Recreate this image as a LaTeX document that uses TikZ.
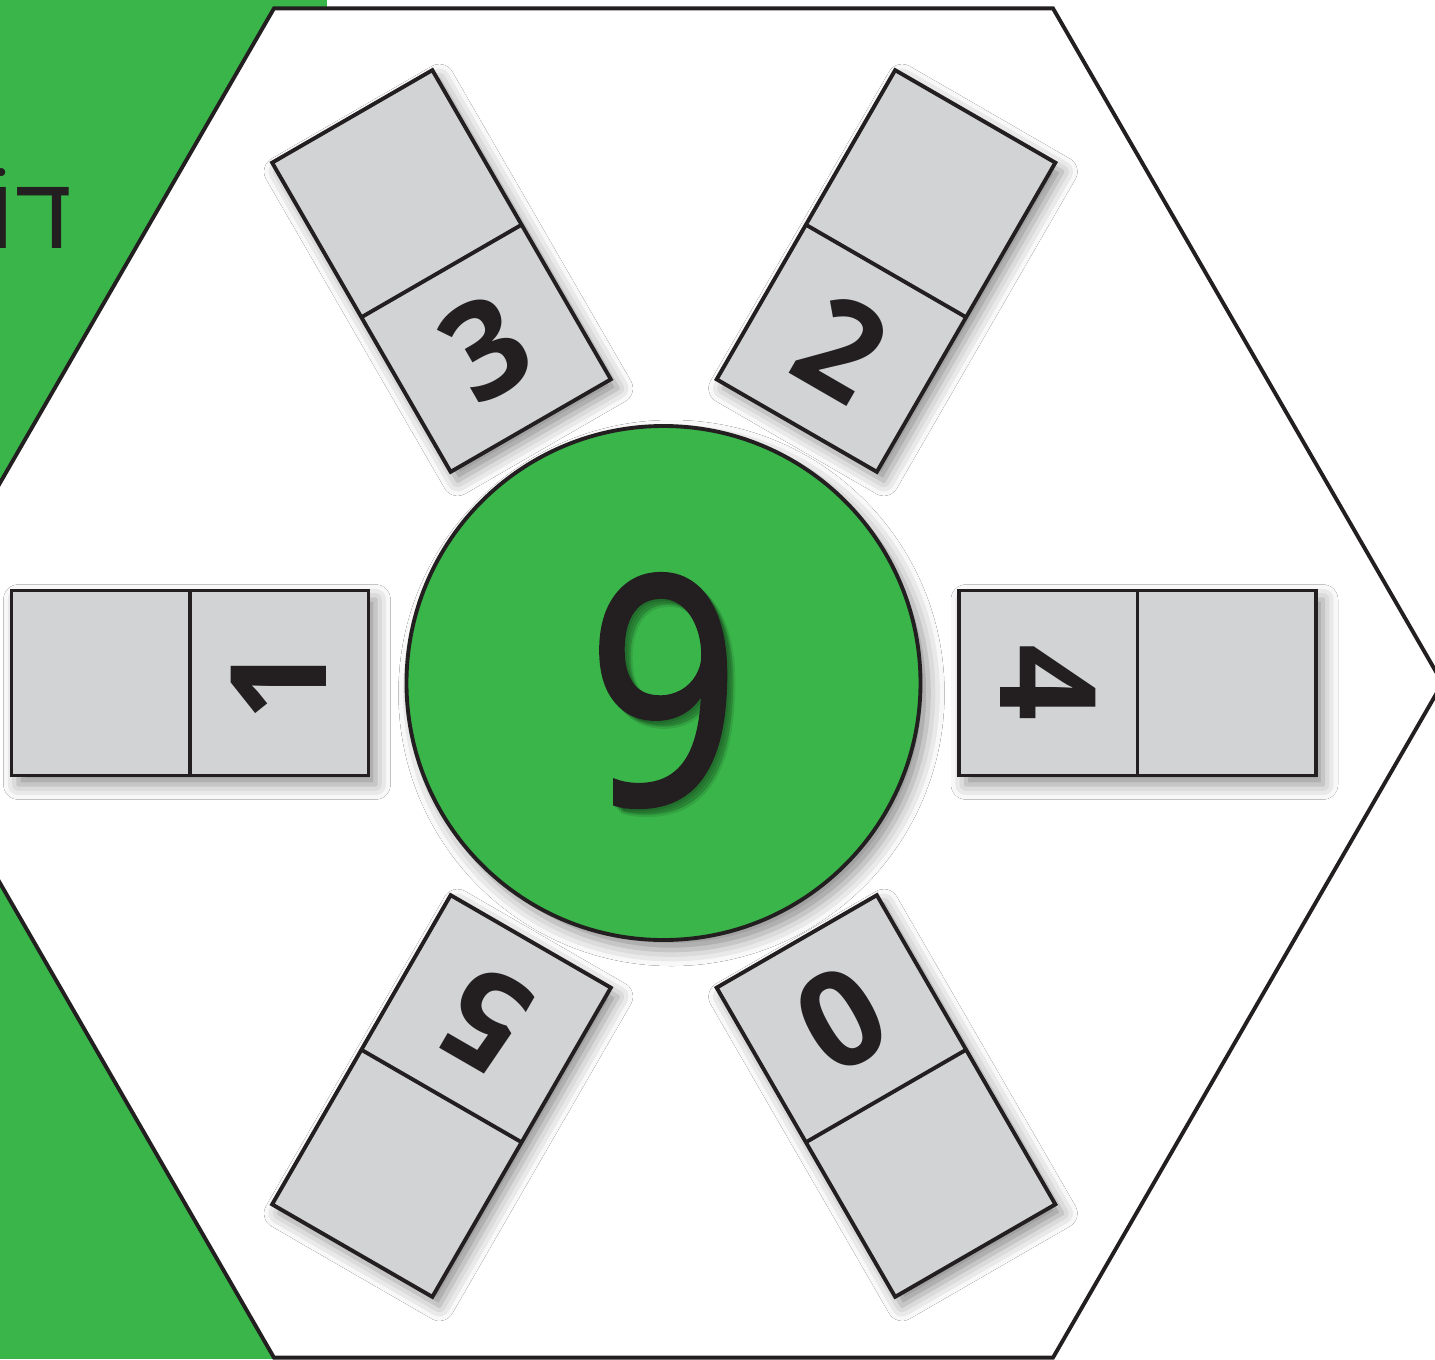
\documentclass[tikz,border=0pt]{standalone}
\usepackage{fontspec}
\setmainfont{Open Sans}
\newfontfamily\hebfont[Script=Hebrew]{Liberation Sans}
\newfontfamily\hubfont[FakeBold=1.6]{Open Sans}
\TeXXeTstate=1
\usetikzlibrary{shadows.blur}
\definecolor{hexgreen}{RGB}{58,181,74}
\definecolor{tilegray}{RGB}{209,211,212}
\definecolor{ink}{RGB}{35,31,32}

\begin{document}
\begin{tikzpicture}[line width=1.1pt,
  tile/.style={draw=ink, fill=tilegray, blur shadow={shadow xshift=0.7mm, shadow yshift=-0.9mm, shadow blur radius=1.5mm, shadow opacity=45}},
  digit/.style={text=ink, inner sep=0pt, font=\bfseries\fontsize{38}{38}\selectfont},
]
  \useasboundingbox (-6.635,-6.76) rectangle (7.715,6.83);
  \clip (-6.635,-6.76) rectangle (7.715,6.83);
  \fill[white] (-6.635,-6.76) rectangle (7.715,6.83);
  \fill[hexgreen] (-6.635,-6.76) rectangle (-3.365,6.83);
  \coordinate (O) at (0,0);
  % hexagon board
  \draw[ink, fill=white] (0:7.79) -- (60:7.79) -- (120:7.79) -- (180:7.79) -- (240:7.79) -- (300:7.79) -- cycle;
  \node[anchor=base east, inner sep=0pt, text=ink, font=\hebfont\fontsize{29}{29}\selectfont] (title) at (-5.9,4.35) {\beginR דוֹמִינוֹ\endR};
  \foreach \cx/\cy/\a/\d [count=\i] in {-4.735/0/180/1, 4.74/0/0/4, -2.22/4.12/120/3, 2.225/4.12/60/2, -2.22/-4.13/240/5, 2.225/-4.13/300/0} {
    \begin{scope}[shift={(\cx,\cy)}, rotate=\a]
      \draw[tile] (-1.785,-0.925) rectangle (1.785,0.925);
      \draw[ink] (0,-0.925) -- (0,0.925);
      \node[digit, rotate=\a-90] (d\i) at (-0.89,0) {\d};
    \end{scope}
  }
  \node[circle, draw=ink, fill=hexgreen, minimum size=5.14cm, blur shadow={shadow xshift=0.8mm, shadow yshift=-1mm, shadow blur radius=1.6mm, shadow opacity=45}] (hub) at (O) {};
  \foreach \s [count=\k] in {0.02,0.04,0.06,0.08}
    \node[text=black, opacity=0.09, inner sep=0pt, xscale=0.84, font=\hubfont\fontsize{90}{90}\selectfont] (nshade\k) at (\s,-0.075-\s) {9};
  \node[text=ink, inner sep=0pt, xscale=0.84, font=\hubfont\fontsize{90}{90}\selectfont] (nine) at (0,-0.075) {9};
\end{tikzpicture}
\end{document}
